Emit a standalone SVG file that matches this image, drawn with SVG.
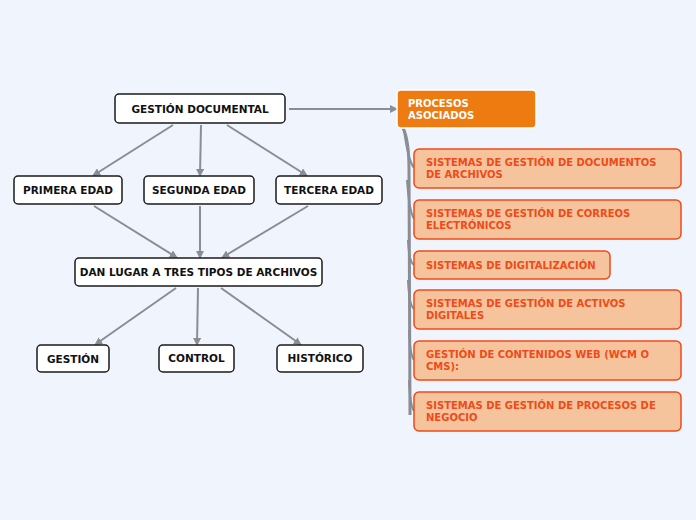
<svg xmlns="http://www.w3.org/2000/svg" width="696" height="520" viewBox="0 0 696 520">
<style>
.n rect{fill:#fff;stroke:#1a1a1a;stroke-width:1.5}
.n text{font-family:"DejaVu Sans",Verdana,sans-serif;font-weight:bold;font-size:10.5px;fill:#111;text-anchor:middle}
.c rect{fill:#f5c49c;stroke:#f04a1a;stroke-width:1.5}
.c text{font-family:"DejaVu Sans",Verdana,sans-serif;font-weight:bold;font-size:10px;fill:#f04a1a}
.e{stroke:#8a8d92;stroke-width:2;fill:none}
.t{stroke:#8a8d92;stroke-width:3;fill:none}
</style>
<defs><marker id="a" markerWidth="8" markerHeight="8" refX="6" refY="4" orient="auto" markerUnits="userSpaceOnUse"><path d="M0,0 L8,4 L0,8 z" fill="#8a8d92"/></marker></defs>
<rect width="696" height="520" fill="#f0f4fd"/>
<g id="connectors">
<path class="e" marker-end="url(#a)" d="M289,109 L396,109"/>
<path class="e" marker-end="url(#a)" d="M173,125 L94,175"/>
<path class="e" marker-end="url(#a)" d="M201,125 L200,175"/>
<path class="e" marker-end="url(#a)" d="M227,125 L306,175"/>
<path class="e" marker-end="url(#a)" d="M94,206 L176,257"/>
<path class="e" marker-end="url(#a)" d="M200,206 L200,257"/>
<path class="e" marker-end="url(#a)" d="M308,206 L223,257"/>
<path class="e" marker-end="url(#a)" d="M176,288 L96,344"/>
<path class="e" marker-end="url(#a)" d="M198,288 L197,344"/>
<path class="e" marker-end="url(#a)" d="M221,288 L300,344"/>
<path class="t" d="M403,128 Q409,140 409,170 L410,415"/>
<path class="e" d="M404,130 Q408,160 414,168 M407,180 Q409,210 414,219 M408,240 Q409,262 414,265 M408,280 Q409,305 414,309 M409,330 Q410,355 414,360 M409,380 Q410,405 414,411"/>
</g>
<g id="gd" class="n"><rect x="115" y="94" width="170" height="29" rx="4"/><text x="200" y="113">GESTIÓN DOCUMENTAL</text></g>
<g id="primera" class="n"><rect x="14" y="176" width="108" height="28" rx="4"/><text x="68" y="194">PRIMERA EDAD</text></g>
<g id="segunda" class="n"><rect x="144" y="176" width="110" height="28" rx="4"/><text x="199" y="194">SEGUNDA EDAD</text></g>
<g id="tercera" class="n"><rect x="276" y="176" width="106" height="28" rx="4"/><text x="329" y="194">TERCERA EDAD</text></g>
<g id="dan" class="n"><rect x="75" y="258" width="247" height="28" rx="4"/><text x="198.5" y="276">DAN LUGAR A TRES TIPOS DE ARCHIVOS</text></g>
<g id="gestion" class="n"><rect x="37" y="345" width="72" height="27" rx="4"/><text x="73" y="363">GESTIÓN</text></g>
<g id="control" class="n"><rect x="159" y="345" width="75" height="27" rx="4"/><text x="196.5" y="362">CONTROL</text></g>
<g id="historico" class="n"><rect x="277" y="345" width="86" height="27" rx="4"/><text x="320" y="362">HISTÓRICO</text></g>
<g id="procesos"><rect x="397" y="90" width="139" height="38" rx="4" fill="#ee7b10" stroke="#fff" stroke-width="1.5"/><text font-family="DejaVu Sans,Verdana,sans-serif" font-weight="bold" font-size="10px" fill="#fff"><tspan x="408" y="107">PROCESOS</tspan><tspan x="408" y="119">ASOCIADOS</tspan></text></g>
<g id="c1" class="c"><rect x="414" y="149" width="267" height="39" rx="5"/><text><tspan x="426" y="166">SISTEMAS DE GESTIÓN DE DOCUMENTOS</tspan><tspan x="426" y="178">DE ARCHIVOS</tspan></text></g>
<g id="c2" class="c"><rect x="414" y="200" width="267" height="39" rx="5"/><text><tspan x="426" y="217">SISTEMAS DE GESTIÓN DE CORREOS</tspan><tspan x="426" y="229">ELECTRÓNICOS</tspan></text></g>
<g id="c3" class="c"><rect x="414" y="251" width="196" height="28" rx="5"/><text x="426" y="269">SISTEMAS DE DIGITALIZACIÓN</text></g>
<g id="c4" class="c"><rect x="414" y="290" width="267" height="39" rx="5"/><text><tspan x="426" y="307">SISTEMAS DE GESTIÓN DE ACTIVOS</tspan><tspan x="426" y="319">DIGITALES</tspan></text></g>
<g id="c5" class="c"><rect x="414" y="341" width="267" height="39" rx="5"/><text><tspan x="426" y="358">GESTIÓN DE CONTENIDOS WEB (WCM O</tspan><tspan x="426" y="370">CMS):</tspan></text></g>
<g id="c6" class="c"><rect x="414" y="392" width="267" height="39" rx="5"/><text><tspan x="426" y="409">SISTEMAS DE GESTIÓN DE PROCESOS DE</tspan><tspan x="426" y="421">NEGOCIO</tspan></text></g>
</svg>
